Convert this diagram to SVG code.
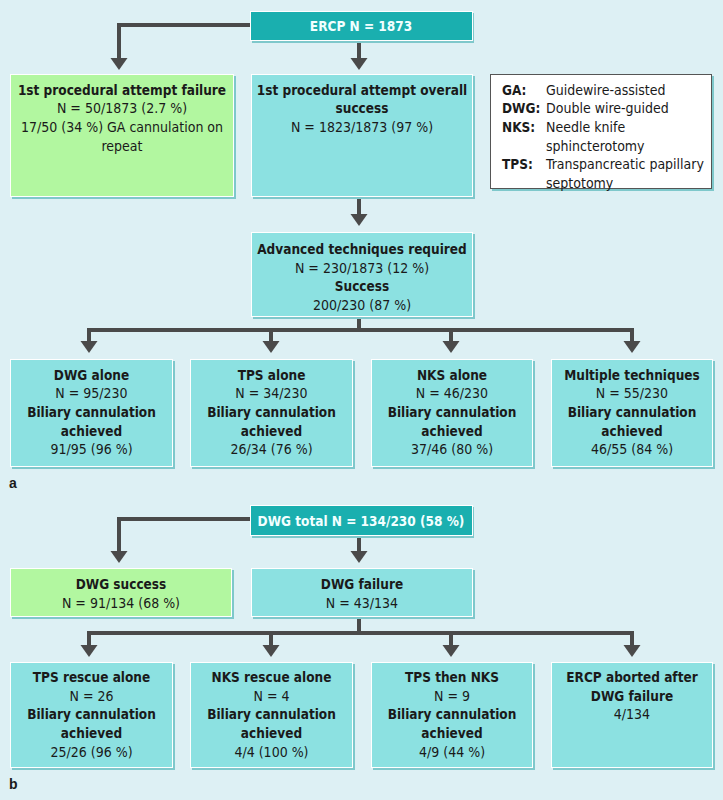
<svg xmlns="http://www.w3.org/2000/svg" width="723" height="800" viewBox="0 0 723 800">
<style>
text{font-family:"DejaVu Sans Condensed","Liberation Sans",sans-serif;font-size:14px;fill:#1a1a1a;text-anchor:middle}
.b{font-weight:bold;font-size:13.5px}
.w{fill:#f2ffff;font-weight:bold;font-size:13.5px}
.l{text-anchor:start}
.sh{fill:#7ec8cb}
.cy{fill:#8ce1e1;stroke:#ffffff;stroke-width:1}
.gr{fill:#b2f7a0;stroke:#ffffff;stroke-width:1}
.tl{fill:#1aafaf;stroke:#ffffff;stroke-width:1}
.lg{fill:#ffffff;stroke:#555555;stroke-width:1}
.ln{fill:none;stroke:#4a4a4a;stroke-width:4}
.ah{fill:#4a4a4a}
.lab{font-family:"Liberation Sans","DejaVu Sans",sans-serif;font-weight:bold;font-size:14px;text-anchor:start}
</style>
<rect width="723" height="800" fill="#ddf0f4"/>

<g id="connectors">
<path class="ln" d="M250,25 H119 V59"/>
<polygon class="ah" points="110.5,58 127.5,58 119,70"/>
<path class="ln" d="M359,41 V59"/>
<polygon class="ah" points="350.5,58 367.5,58 359,70"/>
<path class="ln" d="M359,199 V215"/>
<polygon class="ah" points="350.5,214 367.5,214 359,226"/>
<path class="ln" d="M359,318 V330 M87,330 H634 M89,330 V342 M271,330 V342 M451,330 V342 M632,330 V342"/>
<polygon class="ah" points="80.5,341 97.5,341 89,353"/>
<polygon class="ah" points="262.5,341 279.5,341 271,353"/>
<polygon class="ah" points="442.5,341 459.5,341 451,353"/>
<polygon class="ah" points="623.5,341 640.5,341 632,353"/>
<path class="ln" d="M251,519 H119 V552"/>
<polygon class="ah" points="110.5,551 127.5,551 119,563"/>
<path class="ln" d="M359,537 V552"/>
<polygon class="ah" points="350.5,551 367.5,551 359,563"/>
<path class="ln" d="M359,619 V633 M87,633 H634 M89,633 V646 M271,633 V646 M451,633 V646 M632,633 V646"/>
<polygon class="ah" points="80.5,645 97.5,645 89,657"/>
<polygon class="ah" points="262.5,645 279.5,645 271,657"/>
<polygon class="ah" points="442.5,645 459.5,645 451,657"/>
<polygon class="ah" points="623.5,645 640.5,645 632,657"/>
</g>

<g id="ercp">
<rect class="sh" x="252" y="13" width="222" height="30"/>
<rect class="tl" x="250.5" y="11.5" width="222" height="29"/>
<text class="w" x="361" y="31">ERCP N = 1873</text>
</g>

<g id="first-failure">
<rect class="sh" x="12" y="76" width="224" height="123"/>
<rect class="gr" x="10.5" y="74.5" width="223" height="122"/>
<text class="b" x="122" y="95">1st procedural attempt failure</text>
<text x="122" y="113">N = 50/1873 (2.7 %)</text>
<text x="122" y="132">17/50 (34 %) GA cannulation on</text>
<text x="122" y="151">repeat</text>
</g>

<g id="first-success">
<rect class="sh" x="253" y="76" width="222" height="123"/>
<rect class="cy" x="251.5" y="74.5" width="221" height="122"/>
<text class="b" x="362" y="95">1st procedural attempt overall</text>
<text class="b" x="362" y="113">success</text>
<text x="362" y="132">N = 1823/1873 (97 %)</text>
</g>

<g id="legend">
<rect class="sh" x="492" y="76" width="222" height="115"/>
<rect class="lg" x="490.5" y="74.5" width="221" height="114"/>
<text class="b l" x="502" y="95">GA:</text>
<text class="l" x="546" y="95">Guidewire-assisted</text>
<text class="b l" x="502" y="113">DWG:</text>
<text class="l" x="546" y="113">Double wire-guided</text>
<text class="b l" x="502" y="132">NKS:</text>
<text class="l" x="546" y="132">Needle knife</text>
<text class="l" x="546" y="151">sphincterotomy</text>
<text class="b l" x="502" y="169">TPS:</text>
<text class="l" x="546" y="169">Transpancreatic papillary</text>
<text class="l" x="546" y="188">septotomy</text>
</g>

<g id="advanced">
<rect class="sh" x="253" y="234" width="222" height="85"/>
<rect class="cy" x="251.5" y="232.5" width="221" height="84"/>
<text class="b" x="362" y="254">Advanced techniques required</text>
<text x="362" y="273">N = 230/1873 (12 %)</text>
<text class="b" x="362" y="291">Success</text>
<text x="362" y="310">200/230 (87 %)</text>
</g>

<g id="dwg-alone">
<rect class="sh" x="12" y="361" width="163" height="108"/>
<rect class="cy" x="10.5" y="359.5" width="162" height="107"/>
<text class="b" x="91.5" y="380">DWG alone</text>
<text x="91.5" y="398">N = 95/230</text>
<text class="b" x="91.5" y="417">Biliary cannulation</text>
<text class="b" x="91.5" y="436">achieved</text>
<text x="91.5" y="454">91/95 (96 %)</text>
</g>

<g id="tps-alone">
<rect class="sh" x="192" y="361" width="163" height="108"/>
<rect class="cy" x="190.5" y="359.5" width="162" height="107"/>
<text class="b" x="271.5" y="380">TPS alone</text>
<text x="271.5" y="398">N = 34/230</text>
<text class="b" x="271.5" y="417">Biliary cannulation</text>
<text class="b" x="271.5" y="436">achieved</text>
<text x="271.5" y="454">26/34 (76 %)</text>
</g>

<g id="nks-alone">
<rect class="sh" x="373" y="361" width="162" height="108"/>
<rect class="cy" x="371.5" y="359.5" width="161" height="107"/>
<text class="b" x="452" y="380">NKS alone</text>
<text x="452" y="398">N = 46/230</text>
<text class="b" x="452" y="417">Biliary cannulation</text>
<text class="b" x="452" y="436">achieved</text>
<text x="452" y="454">37/46 (80 %)</text>
</g>

<g id="multiple">
<rect class="sh" x="553" y="361" width="162" height="108"/>
<rect class="cy" x="551.5" y="359.5" width="161" height="107"/>
<text class="b" x="632" y="380">Multiple techniques</text>
<text x="632" y="398">N = 55/230</text>
<text class="b" x="632" y="417">Biliary cannulation</text>
<text class="b" x="632" y="436">achieved</text>
<text x="632" y="454">46/55 (84 %)</text>
</g>

<text class="lab" x="9" y="488">a</text>

<g id="dwg-total">
<rect class="sh" x="252" y="507" width="222" height="31"/>
<rect class="tl" x="250.5" y="505.5" width="222" height="30"/>
<text class="w" x="361" y="526">DWG total N = 134/230 (58 %)</text>
</g>

<g id="dwg-success">
<rect class="sh" x="12" y="570" width="222" height="49"/>
<rect class="gr" x="10.5" y="568.5" width="221" height="48"/>
<text class="b" x="121" y="589">DWG success</text>
<text x="121" y="608">N = 91/134 (68 %)</text>
</g>

<g id="dwg-failure">
<rect class="sh" x="253" y="570" width="222" height="49"/>
<rect class="cy" x="251.5" y="568.5" width="221" height="48"/>
<text class="b" x="362" y="589">DWG failure</text>
<text x="362" y="608">N = 43/134</text>
</g>

<g id="tps-rescue">
<rect class="sh" x="12" y="664" width="163" height="106"/>
<rect class="cy" x="10.5" y="662.5" width="162" height="105"/>
<text class="b" x="91.5" y="682">TPS rescue alone</text>
<text x="91.5" y="701">N = 26</text>
<text class="b" x="91.5" y="719">Biliary cannulation</text>
<text class="b" x="91.5" y="738">achieved</text>
<text x="91.5" y="757">25/26 (96 %)</text>
</g>

<g id="nks-rescue">
<rect class="sh" x="192" y="664" width="163" height="106"/>
<rect class="cy" x="190.5" y="662.5" width="162" height="105"/>
<text class="b" x="271.5" y="682">NKS rescue alone</text>
<text x="271.5" y="701">N = 4</text>
<text class="b" x="271.5" y="719">Biliary cannulation</text>
<text class="b" x="271.5" y="738">achieved</text>
<text x="271.5" y="757">4/4 (100 %)</text>
</g>

<g id="tps-then-nks">
<rect class="sh" x="373" y="664" width="162" height="106"/>
<rect class="cy" x="371.5" y="662.5" width="161" height="105"/>
<text class="b" x="452" y="682">TPS then NKS</text>
<text x="452" y="701">N = 9</text>
<text class="b" x="452" y="719">Biliary cannulation</text>
<text class="b" x="452" y="738">achieved</text>
<text x="452" y="757">4/9 (44 %)</text>
</g>

<g id="ercp-aborted">
<rect class="sh" x="553" y="664" width="162" height="106"/>
<rect class="cy" x="551.5" y="662.5" width="161" height="105"/>
<text class="b" x="632" y="682">ERCP aborted after</text>
<text class="b" x="632" y="701">DWG failure</text>
<text x="632" y="719">4/134</text>
</g>

<text class="lab" x="9" y="789">b</text>
</svg>
